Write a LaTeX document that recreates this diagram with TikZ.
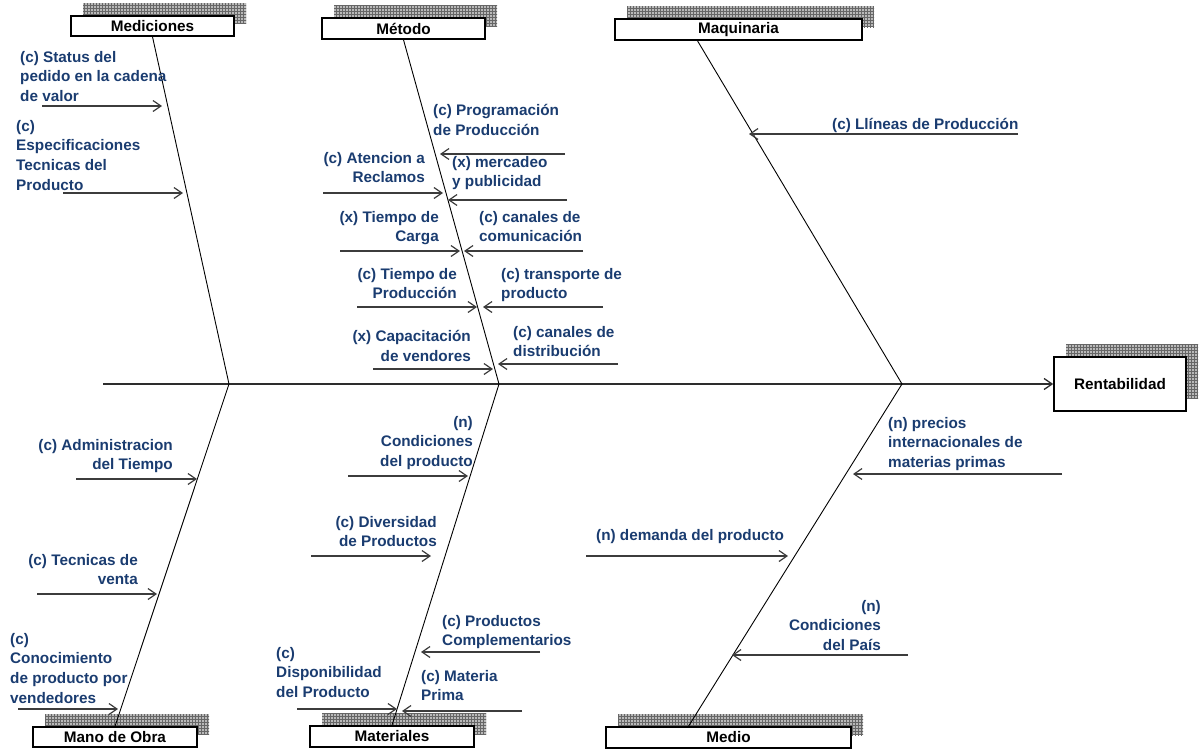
\documentclass[tikz,border=0pt]{standalone}
\usepackage{fontspec}
\setmainfont{Liberation Sans}
\usetikzlibrary{calc}
\usetikzlibrary{arrows.meta}
\usetikzlibrary{patterns}
\usetikzlibrary{shadows}

\definecolor{labelblue}{HTML}{1A3C70}
\definecolor{ribgray}{HTML}{3C3C3C}

\begin{document}
\begin{tikzpicture}[x=1pt, y=-1pt,
    catbox/.style={draw, line width=1.6pt, fill=white, inner sep=0pt,
        font=\bfseries\fontsize{15.3}{18}\selectfont,
        general shadow={fill=gray!55, shadow xshift=12pt, shadow yshift=13pt},
        general shadow={pattern=grid, pattern color=black!60, shadow xshift=12pt, shadow yshift=13pt}},
    cause/.style={inner sep=0pt, text=labelblue, font=\bfseries\fontsize{15.3}{19.6}\selectfont},
    rib/.style={ribgray, line width=1.2pt, -{Straight Barb[length=8pt, width=11pt]}},
    bone/.style={black, line width=0.9pt},
    spine/.style={gray!35!black, line width=1.3pt, -{Straight Barb[length=8pt, width=11pt]}}]
    \useasboundingbox (0,0) rectangle (1204,755);

    % category boxes
    \node[catbox, minimum width=163pt, minimum height=20pt] (medic) at (152.5,26) {Mediciones};
    \node[catbox, minimum width=163pt, minimum height=21pt] (metodo) at (403.5,28.5) {Método};
    \node[catbox, minimum width=247pt, minimum height=21pt] (maq) at (738.5,29.5) {Maquinaria};
    \node[catbox, minimum width=164pt, minimum height=20pt] (obra) at (115,737) {Mano de Obra};
    \node[catbox, minimum width=164pt, minimum height=21pt] (mater) at (392,736.5) {Materiales};
    \node[catbox, minimum width=245pt, minimum height=21pt] (medio) at (728.5,737.5) {Medio};
    \node[catbox, minimum width=132pt, minimum height=54pt] (rent) at (1120,384) {Rentabilidad};

    % spine and bones
    \coordinate (tail) at (103,384);
    \coordinate (j1) at (229,384);
    \coordinate (j2) at (499,384);
    \coordinate (j3) at (902,384);
    \draw[spine] (tail) -- (rent.west);
    \draw[bone] (medic.south) -- (j1) -- (obra.north);
    \draw[bone] (metodo.south) -- (j2) -- (mater.north);
    \draw[bone] ($(maq.south)+(-41,0)$) -- (j3) -- ($(medio.north)+(-40,0)$);

    % Mediciones
    \node[cause, align=left, anchor=north west] (pedido) at (20,51) {(c) Status del\\pedido en la cadena\\de valor};
    \coordinate (pedidoend) at (162,106);
    \draw[rib] ([xshift=-120pt]pedidoend) -- (pedidoend);
    \node[cause, align=left, anchor=north west] (espec) at (16,120) {(c)\\Especificaciones\\Tecnicas del\\Producto};
    \coordinate (especend) at (183,193);
    \draw[rib] ([xshift=-120pt]especend) -- (especend);

    % Metodo
    \node[cause, align=left, anchor=north west] (prog) at (433,104) {(c) Programación\\de Producción};
    \coordinate (progend) at (440,154);
    \draw[rib] ([xshift=125pt]progend) -- (progend);
    \node[cause, align=left, anchor=north west] (merc) at (452,156) {(x) mercadeo\\y publicidad};
    \coordinate (mercend) at (448,200);
    \draw[rib] ([xshift=119pt]mercend) -- (mercend);
    \node[cause, align=right, anchor=north east] (aten) at (425,152) {(c) Atencion a\\Reclamos};
    \coordinate (atenend) at (443,193);
    \draw[rib] ([xshift=-120pt]atenend) -- (atenend);
    \node[cause, align=right, anchor=north east] (carga) at (439,211) {(x) Tiempo de\\Carga};
    \coordinate (cargaend) at (460,251);
    \draw[rib] ([xshift=-120pt]cargaend) -- (cargaend);
    \node[cause, align=left, anchor=north west] (comun) at (479,211) {(c) canales de\\comunicación};
    \coordinate (comunend) at (464,251);
    \draw[rib] ([xshift=119pt]comunend) -- (comunend);
    \node[cause, align=right, anchor=north east] (tprod) at (457,268) {(c) Tiempo de\\Producción};
    \coordinate (tprodend) at (477,307);
    \draw[rib] ([xshift=-120pt]tprodend) -- (tprodend);
    \node[cause, align=left, anchor=north west] (transp) at (501,268) {(c) transporte de\\producto};
    \coordinate (transpend) at (483,307);
    \draw[rib] ([xshift=120pt]transpend) -- (transpend);
    \node[cause, align=right, anchor=north east] (capac) at (471,330) {(x) Capacitación\\de vendores};
    \coordinate (capacend) at (493,369);
    \draw[rib] ([xshift=-120pt]capacend) -- (capacend);
    \node[cause, align=left, anchor=north west] (distr) at (513,326) {(c) canales de\\distribución};
    \coordinate (distrend) at (498,364);
    \draw[rib] ([xshift=120pt]distrend) -- (distrend);

    % Maquinaria
    \node[cause, anchor=north west] (lineas) at (832,118) {(c) Llíneas de Producción};
    \coordinate (lineasend) at (749,134);
    \draw[rib] ([xshift=269pt]lineasend) -- (lineasend);

    % Mano de Obra
    \node[cause, align=right, anchor=north east] (admin) at (173,439) {(c) Administracion\\del Tiempo};
    \coordinate (adminend) at (197,479);
    \draw[rib] ([xshift=-121pt]adminend) -- (adminend);
    \node[cause, align=right, anchor=north east] (tecn) at (138,554) {(c) Tecnicas de\\venta};
    \coordinate (tecnend) at (157,594);
    \draw[rib] ([xshift=-120pt]tecnend) -- (tecnend);
    \node[cause, align=left, anchor=north west] (conoc) at (10,633) {(c)\\Conocimiento\\de producto por\\vendedores};
    \coordinate (conocend) at (118,709);
    \draw[rib] ([xshift=-100pt]conocend) -- (conocend);

    % Materiales
    \node[cause, align=right, anchor=north east] (condprod) at (473,416) {(n)\\Condiciones\\del producto};
    \coordinate (condprodend) at (468,476);
    \draw[rib] ([xshift=-120pt]condprodend) -- (condprodend);
    \node[cause, align=right, anchor=north east] (divers) at (437,516) {(c) Diversidad\\de Productos};
    \coordinate (diversend) at (431,556);
    \draw[rib] ([xshift=-120pt]diversend) -- (diversend);
    \node[cause, align=left, anchor=north west] (compl) at (442,615) {(c) Productos\\Complementarios};
    \coordinate (complend) at (421,652);
    \draw[rib] ([xshift=119pt]complend) -- (complend);
    \node[cause, align=left, anchor=north west] (dispo) at (276,647) {(c)\\Disponibilidad\\del Producto};
    \coordinate (dispoend) at (397,709);
    \draw[rib] ([xshift=-100pt]dispoend) -- (dispoend);
    \node[cause, align=left, anchor=north west] (prima) at (421,670) {(c) Materia\\Prima};
    \coordinate (primaend) at (402,711);
    \draw[rib] ([xshift=120pt]primaend) -- (primaend);

    % Medio
    \node[cause, align=left, anchor=north west] (precios) at (888,417) {(n) precios\\internacionales de\\materias primas};
    \coordinate (preciosend) at (853,474);
    \draw[rib] ([xshift=209pt]preciosend) -- (preciosend);
    \node[cause, anchor=north west] (demanda) at (596,529) {(n) demanda del producto};
    \coordinate (demandaend) at (788,556);
    \draw[rib] ([xshift=-202pt]demandaend) -- (demandaend);
    \node[cause, align=right, anchor=north east] (condpais) at (881,600) {(n)\\Condiciones\\del País};
    \coordinate (condpaisend) at (732,655);
    \draw[rib] ([xshift=176pt]condpaisend) -- (condpaisend);
\end{tikzpicture}
\end{document}
